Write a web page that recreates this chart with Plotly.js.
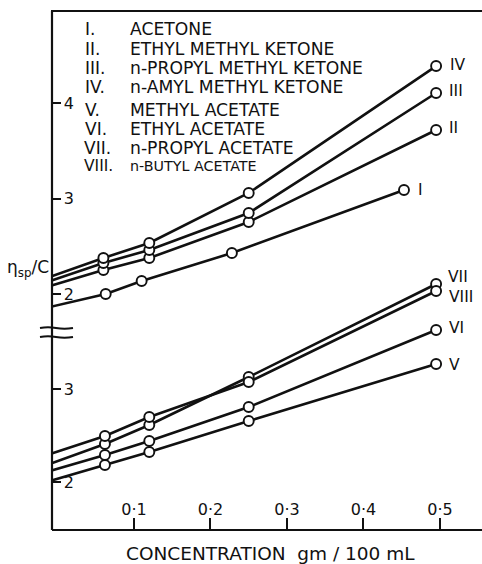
<!DOCTYPE html>
<html>
<head>
<meta charset="utf-8">
<script src="https://cdn.plot.ly/plotly-3.0.1.min.js"></script>
<style>html,body{margin:0;padding:0;background:#fff;}#chart{width:482px;height:564px;}</style>
</head>
<body>
<div id="chart"></div>
<script>
// ---- data ----
const numerals = ["I.", "II.", "III.", "IV.", "V.", "VI.", "VII.", "VIII."];
const names = ["ACETONE", "ETHYL METHYL KETONE", "n-PROPYL METHYL KETONE", "n-AMYL METHYL KETONE",
               "METHYL ACETATE", "ETHYL ACETATE", "n-PROPYL ACETATE", "n-BUTYL ACETATE"];
const endLabels = ["I", "II", "III", "IV", "V", "VI", "VII", "VIII"];

const interceptConc = -0.01;              // extrapolated line reaches the axis
const acetoneConc = [0.063, 0.11, 0.228, 0.453];
const ketoneConc  = [0.06, 0.12, 0.25, 0.495];
const acetateConc = [0.062, 0.12, 0.25, 0.495];

// upper scale (ketones)
const acetoneInt = 1.864, acetoneVal = [2.0, 2.136, 2.429, 3.089];
const ethylMKInt = 2.084, ethylMKVal = [2.251, 2.377, 2.754, 3.717];
const propylMKInt = 2.136, propylMKVal = [2.325, 2.461, 2.848, 4.105];
const amylMKInt = 2.178, amylMKVal = [2.377, 2.534, 3.058, 4.387];
// lower scale (acetates)
const methylAcInt = 2.011, methylAcVal = [2.183, 2.323, 2.656, 3.269];
const ethylAcInt = 2.118, ethylAcVal = [2.29, 2.441, 2.806, 3.634];
const propylAcInt = 2.194, propylAcVal = [2.409, 2.613, 3.129, 4.129];
const butylAcInt = 2.301, butylAcVal = [2.495, 2.699, 3.075, 4.054];

const xTickVals = [0.1, 0.2, 0.3, 0.4, 0.5];
const xTickText = ["0·1", "0·2", "0·3", "0·4", "0·5"];
const upperTickVals = [2, 3, 4];
const lowerTickVals = [2, 3];

// ---- layout geometry ----
const W = 482, H = 564, ML = 52, MR = 0, MT = 11, MB = 34;
const PW = W - ML - MR, PH = H - MT - MB;
const px = x => (x - ML) / PW;
const py = y => (H - MB - y) / PH;
const FONT = "DejaVu Sans, sans-serif";

const series = [
  {conc: acetoneConc, int: acetoneInt, val: acetoneVal, ax: "y2", dy: 0, dx: 12},
  {conc: ketoneConc, int: ethylMKInt, val: ethylMKVal, ax: "y2", dy: -2, dx: 11},
  {conc: ketoneConc, int: propylMKInt, val: propylMKVal, ax: "y2", dy: -2, dx: 11},
  {conc: ketoneConc, int: amylMKInt, val: amylMKVal, ax: "y2", dy: -1, dx: 12},
  {conc: acetateConc, int: methylAcInt, val: methylAcVal, ax: "y", dy: 1, dx: 11},
  {conc: acetateConc, int: ethylAcInt, val: ethylAcVal, ax: "y", dy: -2, dx: 11},
  {conc: acetateConc, int: propylAcInt, val: propylAcVal, ax: "y", dy: -7, dx: 10},
  {conc: acetateConc, int: butylAcInt, val: butylAcVal, ax: "y", dy: 6, dx: 11}
];

const traces = [];
series.forEach(s => traces.push({
  type: "scatter", mode: "lines", x: [interceptConc].concat(s.conc), y: [s.int].concat(s.val),
  yaxis: s.ax, line: {color: "#111", width: 2.6}, hoverinfo: "skip", showlegend: false
}));
series.forEach(s => traces.push({
  type: "scatter", mode: "markers", x: s.conc, y: s.val, yaxis: s.ax,
  marker: {symbol: "circle", size: 10, color: "#fff", line: {color: "#111", width: 1.9}},
  hoverinfo: "skip", showlegend: false, cliponaxis: false
}));

const annotations = [];
// legend block
const rowY = [29, 49, 68, 87, 110, 129, 148, 166];
const numX = [83, 83, 83, 83, 83, 83, 82, 82];
numerals.forEach((n, i) => {
  annotations.push({xref: "paper", yref: "paper", x: px(numX[i]), y: py(rowY[i]), text: n,
    showarrow: false, xanchor: "left", yanchor: "middle", font: {family: FONT, size: i === 7 ? 15.5 : 17, color: "#111"}});
  annotations.push({xref: "paper", yref: "paper", x: px(128), y: py(rowY[i]), text: names[i],
    showarrow: false, xanchor: "left", yanchor: "middle", font: {family: FONT, size: i === 7 ? 14.3 : 17.2, color: "#111"}});
});
// end labels
series.forEach((s, i) => {
  annotations.push({xref: "x", yref: s.ax, x: s.conc[s.conc.length - 1], y: s.val[s.val.length - 1],
    text: endLabels[i], showarrow: false, xanchor: "left", yanchor: "middle", xshift: s.dx, yshift: -s.dy,
    font: {family: FONT, size: 15.5, color: "#111"}});
});
// axis titles
annotations.push({xref: "paper", yref: "paper", x: px(270), y: py(553), text: "CONCENTRATION  gm / 100 mL",
  showarrow: false, xanchor: "center", yanchor: "middle", font: {family: FONT, size: 18.5, color: "#111"}});
annotations.push({xref: "paper", yref: "paper", x: px(28), y: py(268), text: "η<sub>sp</sub>/C",
  showarrow: false, xanchor: "center", yanchor: "middle", font: {family: FONT, size: 17, color: "#111"}});

const shapes = [
  {type: "line", xref: "paper", yref: "paper", x0: px(51), x1: 1, y0: 1, y1: 1, line: {color: "#111", width: 2.2}},
  {type: "line", xref: "paper", yref: "paper", x0: 0, x1: 0, y0: 0, y1: 1, line: {color: "#111", width: 2.2}},
  {type: "line", xref: "paper", yref: "paper", x0: 0, x1: 1, y0: 0, y1: 0, line: {color: "#111", width: 2.2}}
];
// axis break marks
[328, 337].forEach(yy => {
  const a = px(40), b = px(56), c = px(73), y0 = py(yy), yu = py(yy - 1.5), yd = py(yy + 1.5);
  shapes.push({type: "path", xref: "paper", yref: "paper",
    path: `M ${a} ${y0} Q ${(a + b) / 2} ${yu} ${b} ${y0} Q ${(b + c) / 2} ${yd} ${c} ${y0}`,
    line: {color: "#111", width: 2}});
});

const tickFont = {family: FONT, size: 16, color: "#111"};
const layout = {
  width: W, height: H, margin: {l: ML, r: MR, t: MT, b: MB}, paper_bgcolor: "#fff", plot_bgcolor: "#fff",
  showlegend: false,
  xaxis: {range: [-0.0072, 0.555], tickvals: xTickVals, ticktext: xTickText, ticks: "inside", ticklen: 12,
    tickwidth: 2, tickcolor: "#111", ticklabelposition: "inside", showgrid: false, zeroline: false,
    showline: false, tickfont: tickFont, fixedrange: true},
  yaxis: {range: [1.4839, 7.0645], tickvals: lowerTickVals, ticks: "inside", ticklen: 9, tickwidth: 2,
    tickcolor: "#111", ticklabelposition: "inside", ticklabelstandoff: 3, showgrid: false, zeroline: false,
    showline: false, tickfont: tickFont, fixedrange: true},
  yaxis2: {range: [-0.4712, 4.9634], overlaying: "y", side: "left", tickvals: upperTickVals, ticks: "inside",
    ticklen: 9, tickwidth: 2, tickcolor: "#111", ticklabelposition: "inside", ticklabelstandoff: 3,
    showgrid: false, zeroline: false, showline: false, tickfont: tickFont, fixedrange: true},
  shapes: shapes, annotations: annotations
};
Plotly.newPlot("chart", traces, layout, {staticPlot: true, displayModeBar: false});
</script>
</body>
</html>
